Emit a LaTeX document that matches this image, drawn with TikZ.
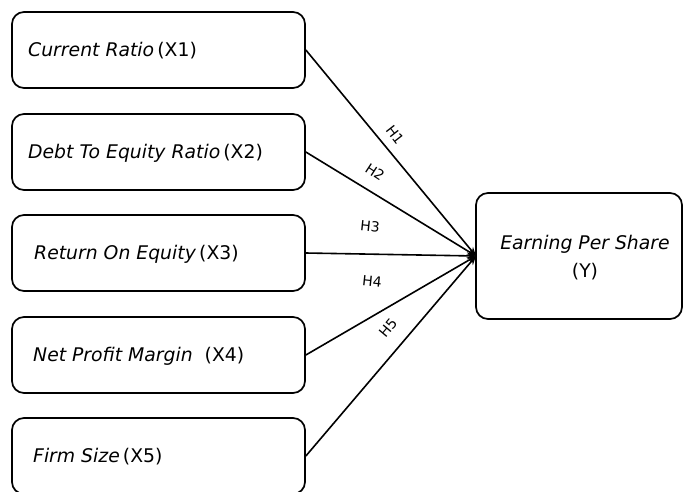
\documentclass[tikz,border=0pt]{standalone}
\usepackage{fontspec}
\setmainfont{DejaVu Sans}
\usetikzlibrary{arrows.meta}
\tikzset{
  box/.style={draw, line width=1.7pt, rounded corners=12pt, minimum width=293pt, minimum height=76pt, inner sep=0pt},
  ybox/.style={draw, line width=1.7pt, rounded corners=12pt, minimum width=206pt, minimum height=126pt, inner sep=0pt},
  lbl/.style={anchor=west, inner sep=0pt, font=\fontsize{18.8}{22}\selectfont},
  conn/.style={line width=1.6pt, -{Stealth[length=9pt, width=7pt]}},
  hl/.style={font=\fontsize{14}{16}\selectfont, inner sep=0pt}
}
\begin{document}
\begin{tikzpicture}[x=1pt, y=-1pt]
\useasboundingbox (0,0) rectangle (683,491);
\node[box] (x1) at (158.5,50) {};
\node[box] (x2) at (158.5,152) {};
\node[box] (x3) at (158.5,253) {};
\node[box] (x4) at (158.5,355) {};
\node[box] (x5) at (158.5,456) {};
\node[ybox] (y) at (579,256) {};
\node[lbl] (t1) at (28,51) {\textit{Current Ratio}\,(X1)};
\node[lbl] (t2) at (28,153) {\textit{Debt To Equity Ratio}\,(X2)};
\node[lbl] (t3) at (34,254) {\textit{Return On Equity}\,(X3)};
\node[lbl] (t4) at (33,356) {\textit{Net Profit Margin}~ (X4)};
\node[lbl] (t5) at (33,457) {\textit{Firm Size}\,(X5)};
\node[font=\fontsize{18.8}{28}\selectfont, align=center, inner sep=0pt] (ty) at (585,258) {\textit{Earning Per Share}\\(Y)};
\coordinate (tip) at (476,256);
\draw[conn] (x1.east) -- (tip);
\draw[conn] (x2.east) -- (tip);
\draw[conn] (x3.east) -- (tip);
\draw[conn] (x4.east) -- (tip);
\draw[conn] (x5.east) -- (tip);
\node[hl, rotate=-52] (h1) at (395,135) {H1};
\node[hl, rotate=-33] (h2) at (375,172) {H2};
\node[hl, rotate=-6] (h3) at (370,226) {H3};
\node[hl, rotate=-6] (h4) at (372,281) {H4};
\node[hl, rotate=50] (h5) at (388,328) {H5};
\end{tikzpicture}
\end{document}
